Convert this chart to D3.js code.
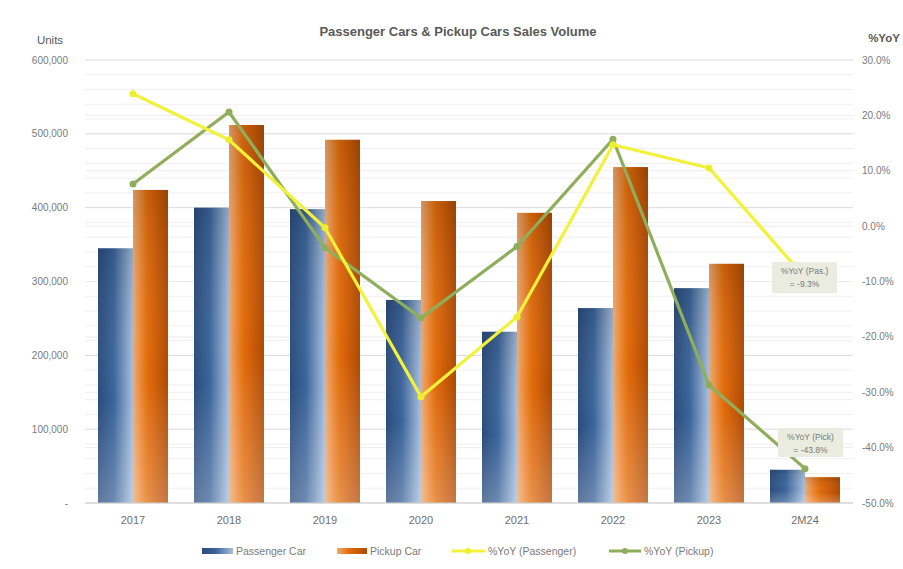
<!DOCTYPE html>
<html><head><meta charset="utf-8">
<script src="https://cdn.jsdelivr.net/npm/d3@7"></script>
<style>body{margin:0;background:#fff;}svg{display:block;font-family:"Liberation Sans",Arial,sans-serif;}</style>
</head><body><svg id="c" width="903" height="569"></svg>
<script>
const categories = ["2017","2018","2019","2020","2021","2022","2023","2M24"];
const passengerCar = [345000,400000,398000,275000,232000,264000,291000,45000];
const pickupCar = [424000,512000,492000,409000,393000,455000,324000,35000];
const yoyPassenger = [23.9,15.6,-0.3,-30.8,-16.4,14.7,10.5,-9.3];
const yoyPickup = [7.6,20.6,-3.9,-16.6,-3.7,15.7,-28.7,-43.8];
const leftTicks = [0,100000,200000,300000,400000,500000,600000];
const rightTicks = [30,20,10,0,-10,-20,-30,-40,-50];

const svg = d3.select("#c");
const L = 85, R = 853, T = 60, B = 503;
const gray = "#595959", tickGray = "#7a7a7a";

const defs = svg.append("defs");
const gb = defs.append("linearGradient").attr("id","gBlue").attr("x1","0").attr("x2","1").attr("y1","0").attr("y2","0");
[[0,"#2b4c7c"],[0.45,"#3b649a"],[1,"#a9bfdb"]].forEach(s=>gb.append("stop").attr("offset",s[0]).attr("stop-color",s[1]));
const go = defs.append("linearGradient").attr("id","gOrange").attr("x1","0").attr("x2","1").attr("y1","0").attr("y2","0");
[[0,"#f0a96f"],[0.4,"#e46c0a"],[1,"#ad4a04"]].forEach(s=>go.append("stop").attr("offset",s[0]).attr("stop-color",s[1]));
const gv = defs.append("linearGradient").attr("id","gV").attr("x1","0").attr("x2","0").attr("y1","0").attr("y2","1");
[[0,"#000",0.12],[0.6,"#fff",0],[1,"#fff",0.25]].forEach(s=>gv.append("stop").attr("offset",s[0]).attr("stop-color",s[1]).attr("stop-opacity",s[2]));

const x = d3.scaleBand().domain(categories).range([L,R]).padding(0);
const y = d3.scaleLinear().domain([0,600000]).range([B,T]);
const y2 = d3.scaleLinear().domain([-50,30]).range([B,T]);

// grid
const minor = d3.range(0,600001,20000);
svg.append("g").selectAll("line").data(minor).join("line")
  .attr("x1",L).attr("x2",R).attr("y1",d=>y(d)).attr("y2",d=>y(d))
  .attr("stroke",d=>d%100000===0?"#d9d9d9":"#efefef").attr("stroke-width",1);
svg.append("g").selectAll("line").data(rightTicks).join("line")
  .attr("x1",L).attr("x2",R).attr("y1",d=>y2(d)).attr("y2",d=>y2(d))
  .attr("stroke","#ececec").attr("stroke-width",1);

const bw = 35;
const bars = svg.append("g");
categories.forEach((c,i)=>{
  const cx = x(c)+x.bandwidth()/2;
  [[passengerCar[i],cx-bw,"url(#gBlue)"],[pickupCar[i],cx,"url(#gOrange)"]].forEach(b=>{
    bars.append("rect").attr("x",b[1]).attr("width",bw).attr("y",y(b[0])).attr("height",B-y(b[0])).attr("fill",b[2]);
    bars.append("rect").attr("x",b[1]).attr("width",bw).attr("y",y(b[0])).attr("height",B-y(b[0])).attr("fill","url(#gV)");
  });
});

svg.append("line").attr("x1",L).attr("x2",R).attr("y1",B).attr("y2",B).attr("stroke","#d0d0d0");

// lines
const cxs = c=>x(c)+x.bandwidth()/2;
const lineGen = d3.line().x((d,i)=>cxs(categories[i])).y(d=>y2(d));
svg.append("path").datum(yoyPickup).attr("d",lineGen).attr("fill","none").attr("stroke","#8fae5c").attr("stroke-width",3.2);
svg.append("g").selectAll("circle").data(yoyPickup).join("circle")
  .attr("cx",(d,i)=>cxs(categories[i])).attr("cy",d=>y2(d)).attr("r",3.5).attr("fill","#8fae5c");
svg.append("path").datum(yoyPassenger).attr("d",lineGen).attr("fill","none").attr("stroke","#f2f23a").attr("stroke-width",3.2);
svg.append("g").selectAll("circle").data(yoyPassenger).join("circle")
  .attr("cx",(d,i)=>cxs(categories[i])).attr("cy",d=>y2(d)).attr("r",3.5).attr("fill","#eeee30");

// axes labels
const fmt = d3.format(",");
svg.append("g").selectAll("text").data(leftTicks).join("text")
  .attr("x",68).attr("y",d=>y(d)+3.5).attr("text-anchor","end").attr("font-size",10).attr("fill",tickGray)
  .text(d=>d===0?"-":fmt(d));
svg.append("g").selectAll("text").data(rightTicks).join("text")
  .attr("x",862).attr("y",d=>y2(d)+3.5).attr("text-anchor","start").attr("font-size",10).attr("fill",tickGray)
  .text(d=>d.toFixed(1)+"%");
svg.append("g").selectAll("text").data(categories).join("text")
  .attr("x",d=>cxs(d)).attr("y",524).attr("text-anchor","middle").attr("font-size",11).attr("fill","#6e6e6e").text(d=>d);

svg.append("text").attr("x",50).attr("y",44).attr("text-anchor","middle").attr("font-size",11.5).attr("fill",gray).text("Units");
svg.append("text").attr("x",884).attr("y",42).attr("text-anchor","middle").attr("font-size",11.5).attr("font-weight","bold").attr("fill",gray).text("%YoY");
svg.append("text").attr("x",458).attr("y",36).attr("text-anchor","middle").attr("font-size",13).attr("font-weight","bold").attr("fill",gray).text("Passenger Cars & Pickup Cars Sales Volume");

// callouts
function callout(x0,y0,w,h,l1,l2){
  svg.append("rect").attr("x",x0).attr("y",y0).attr("width",w).attr("height",h).attr("fill","#e9ecdf");
  svg.append("text").attr("x",x0+w/2).attr("y",y0+12).attr("text-anchor","middle").attr("font-size",8.5).attr("fill","#7a7a7a").text(l1);
  svg.append("text").attr("x",x0+w/2).attr("y",y0+25).attr("text-anchor","middle").attr("font-size",8.5).attr("fill","#7a7a7a").text(l2);
}
callout(772,262,65,31,"%YoY (Pas.)","= "+yoyPassenger[7]+"%");
callout(778,428,65,29,"%YoY (Pick)","= "+yoyPickup[7]+"%");

// legend
const lg = svg.append("g").attr("font-size",10.5).attr("fill",tickGray);
lg.append("rect").attr("x",202).attr("y",548).attr("width",31).attr("height",6).attr("fill","url(#gBlue)");
lg.append("text").attr("x",236).attr("y",555).text("Passenger Car");
lg.append("rect").attr("x",337).attr("y",548).attr("width",30).attr("height",6).attr("fill","url(#gOrange)");
lg.append("text").attr("x",370).attr("y",555).text("Pickup Car");
lg.append("line").attr("x1",452).attr("x2",485).attr("y1",551).attr("y2",551).attr("stroke","#f2f23a").attr("stroke-width",3);
lg.append("circle").attr("cx",468).attr("cy",551).attr("r",3).attr("fill","#eeee30");
lg.append("text").attr("x",488).attr("y",555).text("%YoY (Passenger)");
lg.append("line").attr("x1",609).attr("x2",641).attr("y1",551).attr("y2",551).attr("stroke","#8fae5c").attr("stroke-width",3);
lg.append("circle").attr("cx",625).attr("cy",551).attr("r",3).attr("fill","#8fae5c");
lg.append("text").attr("x",644).attr("y",555).text("%YoY (Pickup)");
</script></body></html>
